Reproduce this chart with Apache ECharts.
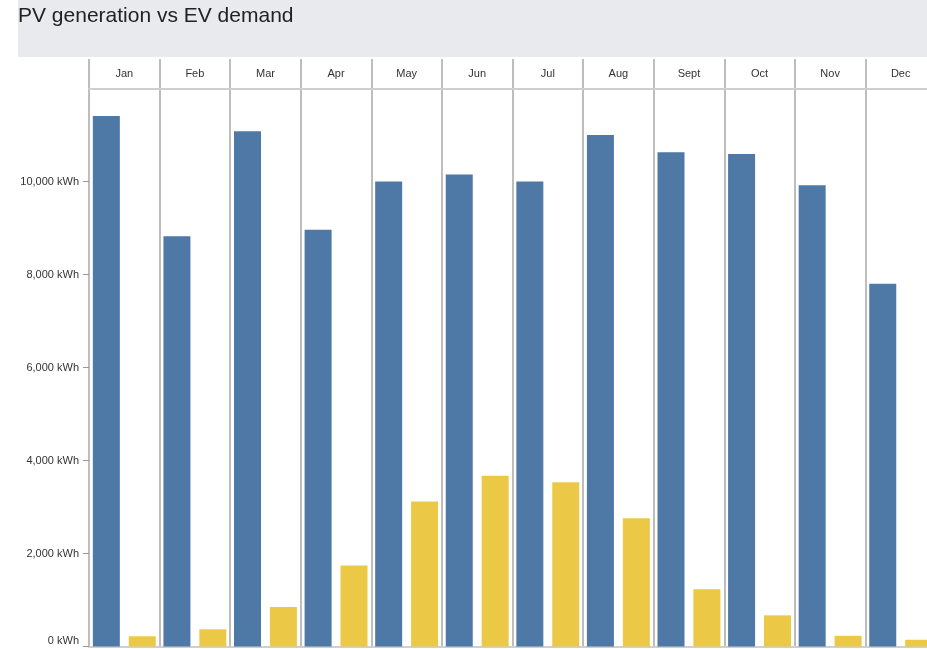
<!DOCTYPE html>
<html>
<head>
<meta charset="utf-8">
<script src="https://cdn.jsdelivr.net/npm/echarts@6/dist/echarts.min.js"></script>
<style>
html,body{margin:0;padding:0;background:#fff;}
#chart{width:927px;height:649px;}
</style>
</head>
<body>
<div id="chart"></div>
<script>
const months = ['Jan','Feb','Mar','Apr','May','Jun','Jul','Aug','Sept','Oct','Nov','Dec'];
const pvGeneration = [11410, 8820, 11080, 8960, 10000, 10150, 10000, 11000, 10630, 10590, 9920, 7800];
const evDemand = [220, 370, 850, 1740, 3120, 3670, 3530, 2760, 1230, 670, 230, 145];
const yTicks = [0, 2000, 4000, 6000, 8000, 10000];

const sepColor = '#bdbdbd';
const chart = echarts.init(document.getElementById('chart'), null, {renderer:'canvas'});
chart.setOption({
  animation: false,
  textStyle: {fontFamily: 'Liberation Sans, Arial, sans-serif'},
  graphic: [{
    type: 'rect', z: -10,
    shape: {x: 18, y: 0, width: 909, height: 57},
    style: {fill: '#e9eaee'}
  }],
  title: {
    text: 'PV generation vs EV demand',
    left: 18, top: 6, padding: 0,
    textStyle: {fontSize: 21, fontWeight: 'normal', color: '#222', fontFamily: 'Liberation Sans, Arial, sans-serif'}
  },
  grid: [
    {left: 89, width: 847, top: 88.5, bottom: 2.5, outerBoundsMode: 'none', containLabel: false},
    {left: 89, width: 847, top: 59, height: 29.5, outerBoundsMode: 'none', containLabel: false}
  ],
  xAxis: [
    {
      type: 'category', gridIndex: 0, data: months,
      axisLine: {show: true, lineStyle: {color: '#cfcfcf', width: 2}},
      axisTick: {show: false},
      axisLabel: {show: false},
      splitLine: {show: true, lineStyle: {color: sepColor, width: 2}}
    },
    {
      type: 'category', gridIndex: 1, data: months, position: 'bottom',
      axisLine: {show: true, lineStyle: {color: '#cfcfcf', width: 2}},
      axisTick: {show: false},
      axisLabel: {inside: true, margin: 9, fontSize: 11, color: '#333'},
      splitLine: {show: true, lineStyle: {color: sepColor, width: 2}}
    }
  ],
  yAxis: [
    {
      type: 'value', gridIndex: 0, min: 0, max: 12000, interval: 2000,
      axisLine: {show: true, lineStyle: {color: sepColor, width: 2}},
      axisTick: {show: true, length: 6, customValues: yTicks, lineStyle: {color: '#999', width: 1}},
      axisLabel: {
        margin: 10, fontSize: 11, color: '#333',
        customValues: yTicks,
        formatter: function (v) {
          const s = v.toLocaleString('en-US') + ' kWh';
          return v === 0 ? '{z|' + s + '}' : s;
        },
        rich: {z: {fontSize: 11, color: '#333', padding: [0, 0, 12, 0]}}
      },
      splitLine: {show: false}
    },
    {type: 'value', gridIndex: 1, min: 0, max: 1, show: false}
  ],
  series: [
    {
      name: 'PV generation', type: 'bar', xAxisIndex: 0, yAxisIndex: 0,
      data: pvGeneration, barWidth: 27, barGap: '33%',
      itemStyle: {color: '#4e79a7'}
    },
    {
      name: 'EV demand', type: 'bar', xAxisIndex: 0, yAxisIndex: 0,
      data: evDemand, barWidth: 27, barGap: '33%',
      itemStyle: {color: '#ebc947'}
    }
  ]
});
</script>
</body>
</html>
